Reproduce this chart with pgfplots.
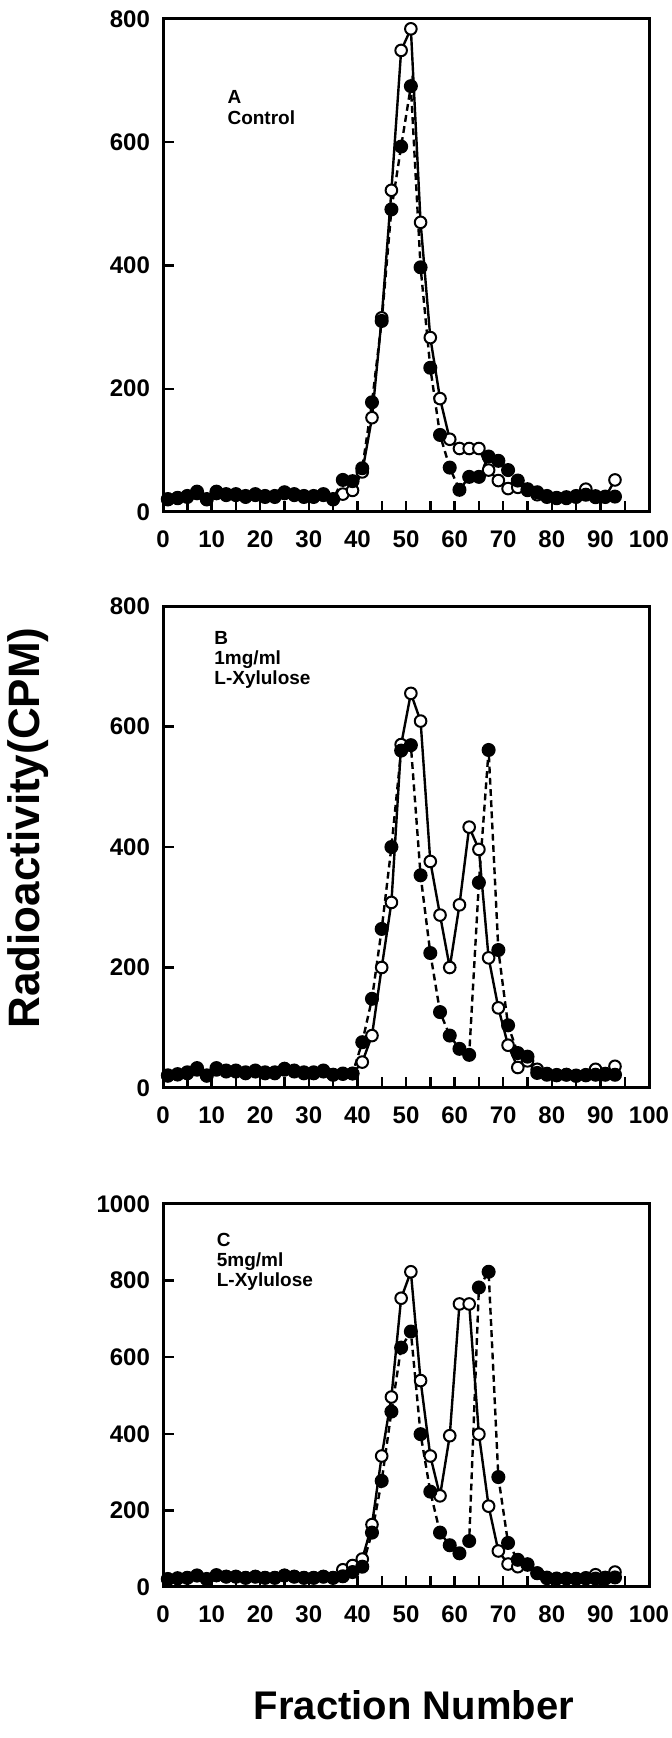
\documentclass[border=0pt]{standalone}
\usepackage{pgfplots}
\usepackage{pgfplotstable}
\pgfplotsset{compat=1.18}
\usepackage{fontspec}
\setmainfont{Liberation Sans}

\pgfplotstableread{
x open filled
1 20 21
3 22 23
5 24 26
7 30 33
9 20 21
11 30 33
13 27 29
15 27 29
17 24 26
19 27 29
21 24 26
23 24 26
25 30 32
27 27 29
29 24 26
31 24 26
33 27 29
35 20 21
37 29 52
39 35 50
41 65 71
43 153 178
45 315 310
47 522 491
49 749 593
51 784 691
53 470 397
55 283 234
57 184 125
59 118 72
61 103 36
63 103 57
65 103 57
67 68 90
69 51 83
71 38 68
73 40 51
75 35 37
77 28 32
79 24 26
81 22 23
83 22 24
85 24 26
87 37 28
89 26 24
91 24 25
93 52 25
}\dataA

\pgfplotstableread{
x open filled
1 20 21
3 22 23
5 24 26
7 30 33
9 20 21
11 30 33
13 27 29
15 27 29
17 24 26
19 27 29
21 24 26
23 24 26
25 30 32
27 27 29
29 24 26
31 24 26
33 27 29
35 22 22
37 23 24
39 24 24
41 43 76
43 87 148
45 200 264
47 308 400
49 570 560
51 655 569
53 609 353
55 376 224
57 287 126
59 200 87
61 304 65
63 433 55
65 396 341
67 216 561
69 133 229
71 71 104
73 34 58
75 45 52
77 31 25
79 24 22
81 22 21
83 22 22
85 21 20
87 22 21
89 31 22
91 24 22
93 36 22
}\dataB

\pgfplotstableread{
x open filled
1 20 21
3 22 23
5 24 24
7 30 30
9 20 21
11 30 31
13 27 27
15 27 27
17 24 24
19 27 27
21 24 24
23 24 24
25 30 30
27 27 27
29 24 24
31 24 24
33 27 27
35 24 24
37 45 28
39 56 39
41 73 53
43 163 142
45 342 277
47 496 458
49 754 625
51 823 667
53 539 399
55 342 249
57 238 142
59 395 109
61 739 88
63 739 120
65 399 782
67 211 823
69 94 287
71 60 115
73 53 71
75 60 58
77 36 36
79 25 23
81 22 22
83 22 22
85 22 21
87 24 22
89 32 22
91 25 22
93 39 25
}\dataC

\pgfplotsset{
  panel/.style={
    scale only axis,
    width=243pt,
    anchor=south west,
    xmin=0, xmax=100,
    xtick={0,10,...,100},
    minor xtick={5,15,...,95},
    ymin=0,
    tick align=inside,
    tick pos=left,
    major tick length=5.5pt,
    minor tick length=5.5pt,
    every tick/.style={black, line width=1.2pt},
    axis line style={line width=1.5pt},
    /pgf/number format/assume math mode=true,
    /pgf/number format/1000 sep={},
    ticklabel style={font=\bfseries\fontsize{12}{12}\selectfont},
    xticklabel style={yshift=-6pt},
    yticklabel style={xshift=-3pt},
    clip=false,
  },
  openser/.style={black, line width=1.2pt, mark=*, mark size=2.9pt,
    mark options={solid, fill=white, draw=black, line width=1pt}},
  fillser/.style={black, line width=1.2pt, dash pattern=on 3.4pt off 2.2pt, mark=*, mark size=2.9pt,
    mark options={solid, fill=black, draw=black}},
}

\begin{document}
\begin{tikzpicture}
\path[use as bounding box] (0,0) rectangle (336pt,869pt);

% Panel A
\begin{axis}[panel, at={(81.5pt,613pt)}, height=246.5pt, ymax=800, ytick={0,200,...,800}]
\addplot[openser] table[x=x, y=open] {\dataA};
\addplot[fillser] table[x=x, y=filled] {\dataA};
\node[anchor=north west, inner sep=0pt, align=left, font=\bfseries\fontsize{9.5}{10.5}\selectfont]
  at (rel axis cs:0.132,0.855) {A\\Control};
\end{axis}

% Panel B
\begin{axis}[panel, at={(81.5pt,325pt)}, height=241pt, ymax=800, ytick={0,200,...,800}]
\addplot[openser] table[x=x, y=open] {\dataB};
\addplot[fillser] table[x=x, y=filled] {\dataB};
\node[anchor=north west, inner sep=0pt, align=left, font=\bfseries\fontsize{9.5}{10}\selectfont]
  at (rel axis cs:0.105,0.948) {B\\1mg/ml\\L-Xylulose};
\end{axis}

% Panel C
\begin{axis}[panel, at={(81.5pt,75.5pt)}, height=191.5pt, ymax=1000, ytick={0,200,...,1000}]
\addplot[openser] table[x=x, y=open] {\dataC};
\addplot[fillser] table[x=x, y=filled] {\dataC};
\node[anchor=north west, inner sep=0pt, align=left, font=\bfseries\fontsize{9.5}{10}\selectfont]
  at (rel axis cs:0.110,0.925) {C\\5mg/ml\\L-Xylulose};
\end{axis}

\node[rotate=90, font=\bfseries\fontsize{22}{22}\selectfont] at (14pt,455pt) {Radioactivity(CPM)};
\node[font=\bfseries\fontsize{20}{20}\selectfont] at (207pt,16.5pt) {Fraction Number};
\end{tikzpicture}
\end{document}
